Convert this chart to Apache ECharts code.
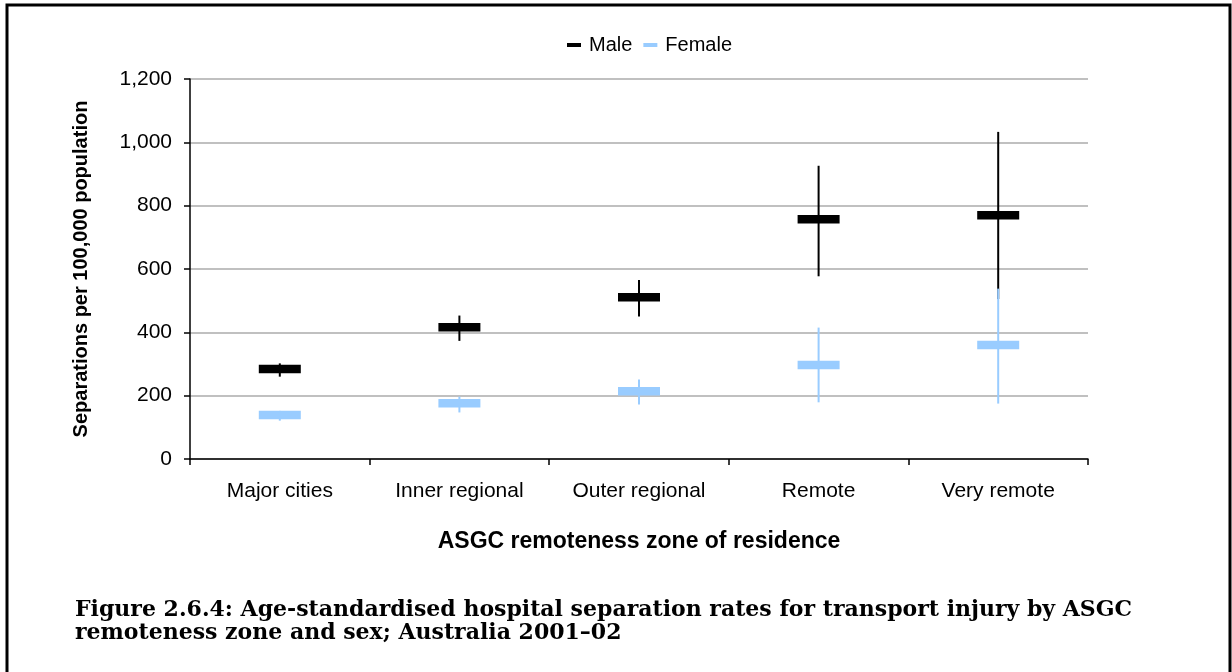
<!DOCTYPE html>
<html>
<head>
<meta charset="utf-8">
<script src="https://cdn.jsdelivr.net/npm/echarts@6/dist/echarts.min.js"></script>
<style>
html,body{margin:0;padding:0;background:#fff;}
#chart{width:1232px;height:672px;}
</style>
</head>
<body>
<div id="chart"></div>
<script>
const categories = ['Major cities', 'Inner regional', 'Outer regional', 'Remote', 'Very remote'];
const maleRate = [284, 416, 511, 757, 770];
const maleLow = [260, 373, 450, 577, 505];
const maleHigh = [302, 453, 565, 926, 1033];
const femaleRate = [139, 176, 214, 297, 360];
const femaleLow = [121, 147, 172, 179, 175];
const femaleHigh = [152, 197, 251, 415, 538];
const yTicks = [0, 200, 400, 600, 800, 1000, 1200];

const chart = echarts.init(document.getElementById('chart'), null, {renderer: 'canvas'});

function errSeries(name, color, rate, low, high, lineW) {
  return {
    name: name,
    type: 'custom',
    itemStyle: {color: color},
    data: categories.map((c, i) => [i, rate[i], low[i], high[i]]),
    renderItem: function (params, api) {
      const x = api.value(0);
      const pm = api.coord([x, api.value(1)]);
      const pl = api.coord([x, api.value(2)]);
      const ph = api.coord([x, api.value(3)]);
      return {
        type: 'group',
        children: [
          {type: 'line', shape: {x1: pm[0], y1: ph[1], x2: pm[0], y2: pl[1]},
           style: {stroke: color, lineWidth: lineW}},
          {type: 'rect', shape: {x: pm[0] - 21, y: pm[1] - 4.25, width: 42, height: 8.5},
           style: {fill: color}}
        ]
      };
    }
  };
}

const option = {
  backgroundColor: '#fff',
  animation: false,
  textStyle: {fontFamily: 'Liberation Sans'},
  legend: {
    top: 30,
    left: 562,
    itemWidth: 14,
    itemHeight: 4,
    itemGap: 11,
    icon: 'rect',
    textStyle: {fontSize: 20, color: '#000', fontFamily: 'Liberation Sans', padding: [0, 0, 0, 3]},
    data: ['Male', 'Female']
  },
  grid: {left: 190, right: 144, top: 79, bottom: 213},
  xAxis: {
    type: 'category',
    data: categories,
    boundaryGap: true,
    name: 'ASGC remoteness zone of residence',
    nameLocation: 'middle',
    nameGap: 71,
    nameTextStyle: {fontSize: 23, fontWeight: 'bold', color: '#000', fontFamily: 'Liberation Sans'},
    axisLine: {lineStyle: {color: '#000', width: 1.5}},
    axisTick: {show: true, length: 6, lineStyle: {color: '#000', width: 1.5}},
    axisLabel: {fontSize: 21, color: '#000', margin: 22, fontFamily: 'Liberation Sans'},
    splitLine: {show: false}
  },
  yAxis: {
    type: 'value',
    min: yTicks[0],
    max: yTicks[yTicks.length - 1],
    interval: 200,
    name: 'Separations per 100,000 population',
    nameLocation: 'middle',
    nameGap: 99,
    nameTextStyle: {fontSize: 20, fontWeight: 'bold', color: '#000', fontFamily: 'Liberation Sans'},
    axisLine: {show: true, lineStyle: {color: '#000', width: 1.5}},
    axisTick: {show: true, length: 6, lineStyle: {color: '#000', width: 1.5}},
    axisLabel: {
      fontSize: 21, color: '#000', margin: 18, fontFamily: 'Liberation Sans',
      formatter: v => v.toLocaleString('en-US')
    },
    splitLine: {show: true, lineStyle: {color: '#c0c0c0', width: 2}}
  },
  graphic: [
    {type: 'polyline', shape: {points: [[7, 672], [7, 5], [1230, 5], [1230, 672]]},
     style: {stroke: '#000', lineWidth: 3, fill: null}},
    {type: 'text', left: 75, top: 599,
     style: {text: 'Figure 2.6.4: Age-standardised hospital separation rates for transport injury by ASGC',
             font: 'bold 22px "DejaVu Serif"', fill: '#000'}},
    {type: 'text', left: 75, top: 622,
     style: {text: 'remoteness zone and sex; Australia 2001\u201302',
             font: 'bold 22px "DejaVu Serif"', fill: '#000'}}
  ],
  series: [
    errSeries('Male', '#000000', maleRate, maleLow, maleHigh, 2),
    errSeries('Female', '#99ccff', femaleRate, femaleLow, femaleHigh, 2)
  ]
};
chart.setOption(option);
</script>
</body>
</html>
